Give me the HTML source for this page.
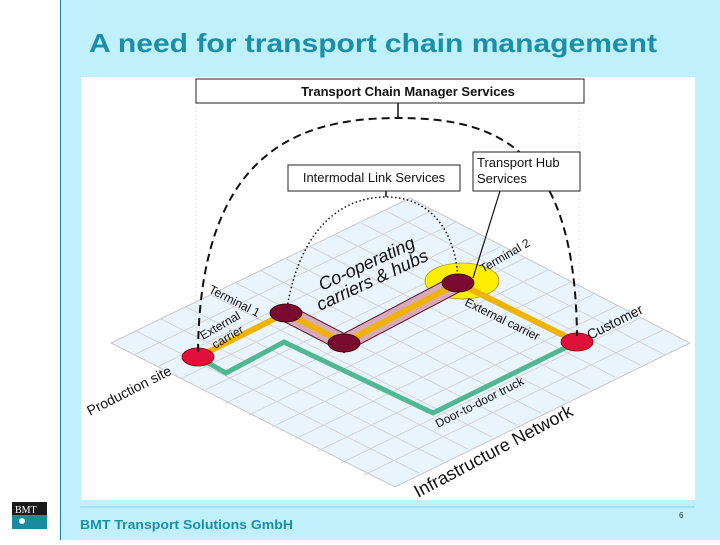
<!DOCTYPE html>
<html><head><meta charset="utf-8"><style>
body{margin:0;width:720px;height:540px;overflow:hidden;background:#fff;font-family:"Liberation Sans",sans-serif}
</style></head><body>
<svg width="720" height="540" viewBox="0 0 720 540" xmlns="http://www.w3.org/2000/svg" font-family="Liberation Sans, sans-serif">
<rect x="0" y="0" width="720" height="540" fill="#fff"/>
<rect x="61" y="0" width="659" height="540" fill="#c0f0fb"/>
<line x1="60.5" y1="0" x2="60.5" y2="540" stroke="#1a7fa0" stroke-width="1"/>
<text x="89" y="52" font-size="26" font-weight="bold" fill="#1a8fa8" textLength="568" lengthAdjust="spacingAndGlyphs">A need for transport chain management</text>
<rect x="81" y="77" width="614" height="423" fill="#fff"/>
<line x1="80" y1="507" x2="695" y2="507" stroke="#7fd4e6" stroke-width="1"/>
<text x="80" y="529" font-size="13" font-weight="bold" fill="#1a8fa8" textLength="213" lengthAdjust="spacingAndGlyphs">BMT Transport Solutions GmbH</text>
<text x="679" y="518" font-size="8" fill="#333">6</text>
<rect x="12" y="502" width="35" height="27" fill="#1a8aa0"/>
<rect x="12" y="502" width="35" height="13" fill="#1a1a1a"/>
<text x="15" y="513" font-size="10" fill="#fff" font-family="Liberation Serif, serif">BMT</text>
<circle cx="22" cy="521" r="3" fill="#fff"/>
<polygon points="111,343 410,198 690,343 395,487" fill="#eaf4fc" stroke="#c8c8c8" stroke-width="1"/>
<g stroke="#cfcfcf" stroke-width="0.8">
<line x1="136" y1="331" x2="419" y2="473"/><line x1="161" y1="319" x2="443" y2="461"/>
<line x1="186" y1="307" x2="468" y2="449"/><line x1="211" y1="295" x2="492" y2="437"/>
<line x1="236" y1="283" x2="517" y2="425"/><line x1="261" y1="271" x2="541" y2="413"/>
<line x1="286" y1="259" x2="566" y2="401"/><line x1="311" y1="247" x2="590" y2="389"/>
<line x1="336" y1="235" x2="615" y2="377"/><line x1="361" y1="223" x2="640" y2="365"/>
<line x1="386" y1="211" x2="665" y2="355"/>
<line x1="134" y1="355" x2="433" y2="210"/><line x1="157" y1="367" x2="456" y2="222"/>
<line x1="180" y1="379" x2="479" y2="234"/><line x1="203" y1="391" x2="502" y2="246"/>
<line x1="226" y1="403" x2="525" y2="258"/><line x1="249" y1="415" x2="548" y2="270"/>
<line x1="272" y1="427" x2="571" y2="282"/><line x1="295" y1="439" x2="594" y2="294"/>
<line x1="318" y1="451" x2="617" y2="306"/><line x1="341" y1="463" x2="640" y2="318"/>
<line x1="364" y1="475" x2="663" y2="330"/>
</g>
<line x1="196" y1="103" x2="196" y2="345" stroke="#ccc" stroke-dasharray="1,3"/>
<line x1="579" y1="103" x2="579" y2="335" stroke="#ccc" stroke-dasharray="1,3"/>
<ellipse cx="462" cy="281" rx="37" ry="18" fill="#ffee00" stroke="#aa9900" stroke-width="0.8"/>
<polyline points="286,313 344,343 458,283" fill="none" stroke="#5a1030" stroke-width="18" stroke-linejoin="miter"/>
<polyline points="286,313 344,343 458,283" fill="none" stroke="#d8aab8" stroke-width="16" stroke-linejoin="miter"/>
<polyline points="198,357 226,373 284,342 433,413 577,342" fill="none" stroke="#50b890" stroke-width="5" stroke-linejoin="miter"/>
<polyline points="198,357 286,313 344,343 458,283 577,342" fill="none" stroke="#f0b400" stroke-width="6"/>
<ellipse cx="198" cy="357" rx="16" ry="9" fill="#e0103a" stroke="#800" stroke-width="0.8"/>
<ellipse cx="577" cy="342" rx="16" ry="9" fill="#e0103a" stroke="#800" stroke-width="0.8"/>
<ellipse cx="286" cy="313" rx="16" ry="9" fill="#7a0a30" stroke="#300" stroke-width="0.8"/>
<ellipse cx="344" cy="343" rx="16" ry="9" fill="#7a0a30" stroke="#300" stroke-width="0.8"/>
<ellipse cx="458" cy="283" rx="16" ry="9" fill="#7a0a30" stroke="#300" stroke-width="0.8"/>
<path d="M198,352 C200,150 300,118 398,118 C500,118 575,150 577,336" fill="none" stroke="#111" stroke-width="2" stroke-dasharray="8,5"/>
<line x1="398" y1="103" x2="398" y2="118" stroke="#111" stroke-width="1.5"/>
<path d="M287,308 C300,230 340,197 386,197 C430,197 455,230 458,278" fill="none" stroke="#111" stroke-width="1.5" stroke-dasharray="1.5,2.5"/>
<line x1="386" y1="190" x2="386" y2="197" stroke="#111" stroke-width="1.5"/>
<line x1="500" y1="191" x2="473" y2="278" stroke="#111" stroke-width="1.2"/>
<rect x="196" y="79" width="388" height="24" fill="#fff" stroke="#222" stroke-width="1"/>
<text x="408" y="96" font-size="13" font-weight="bold" text-anchor="middle" fill="#111">Transport Chain Manager Services</text>
<rect x="288" y="165" width="172" height="26" fill="#fff" stroke="#222" stroke-width="1"/>
<text x="374" y="182" font-size="13" text-anchor="middle" fill="#111">Intermodal Link Services</text>
<rect x="473" y="152" width="107" height="39" fill="#fff" stroke="#222" stroke-width="1"/>
<text x="477" y="167" font-size="13" fill="#111">Transport Hub</text>
<text x="477" y="183" font-size="13" fill="#111">Services</text>
<g fill="#111">
<text font-size="14" transform="translate(90,416) rotate(-27)">Production site</text>
<text font-size="12" transform="translate(208,292) rotate(27)">Terminal 1</text>
<text font-size="12" transform="translate(203,340) rotate(-30)">External</text>
<text font-size="12" transform="translate(215,349) rotate(-30)">carrier</text>
<text font-size="18" font-style="italic" transform="translate(322,291) rotate(-25)">Co-operating</text>
<text font-size="18" font-style="italic" transform="translate(320,311) rotate(-25)">carriers &amp; hubs</text>
<text font-size="12" transform="translate(483,273) rotate(-30)">Terminal 2</text>
<text font-size="12" transform="translate(464,305) rotate(26)">External carrier</text>
<text font-size="14" transform="translate(590,340) rotate(-27)">Customer</text>
<text font-size="12" transform="translate(438,428) rotate(-27)">Door-to-door truck</text>
<text font-size="18" transform="translate(418,498) rotate(-28)">Infrastructure Network</text>
</g>
</svg>
</body></html>
